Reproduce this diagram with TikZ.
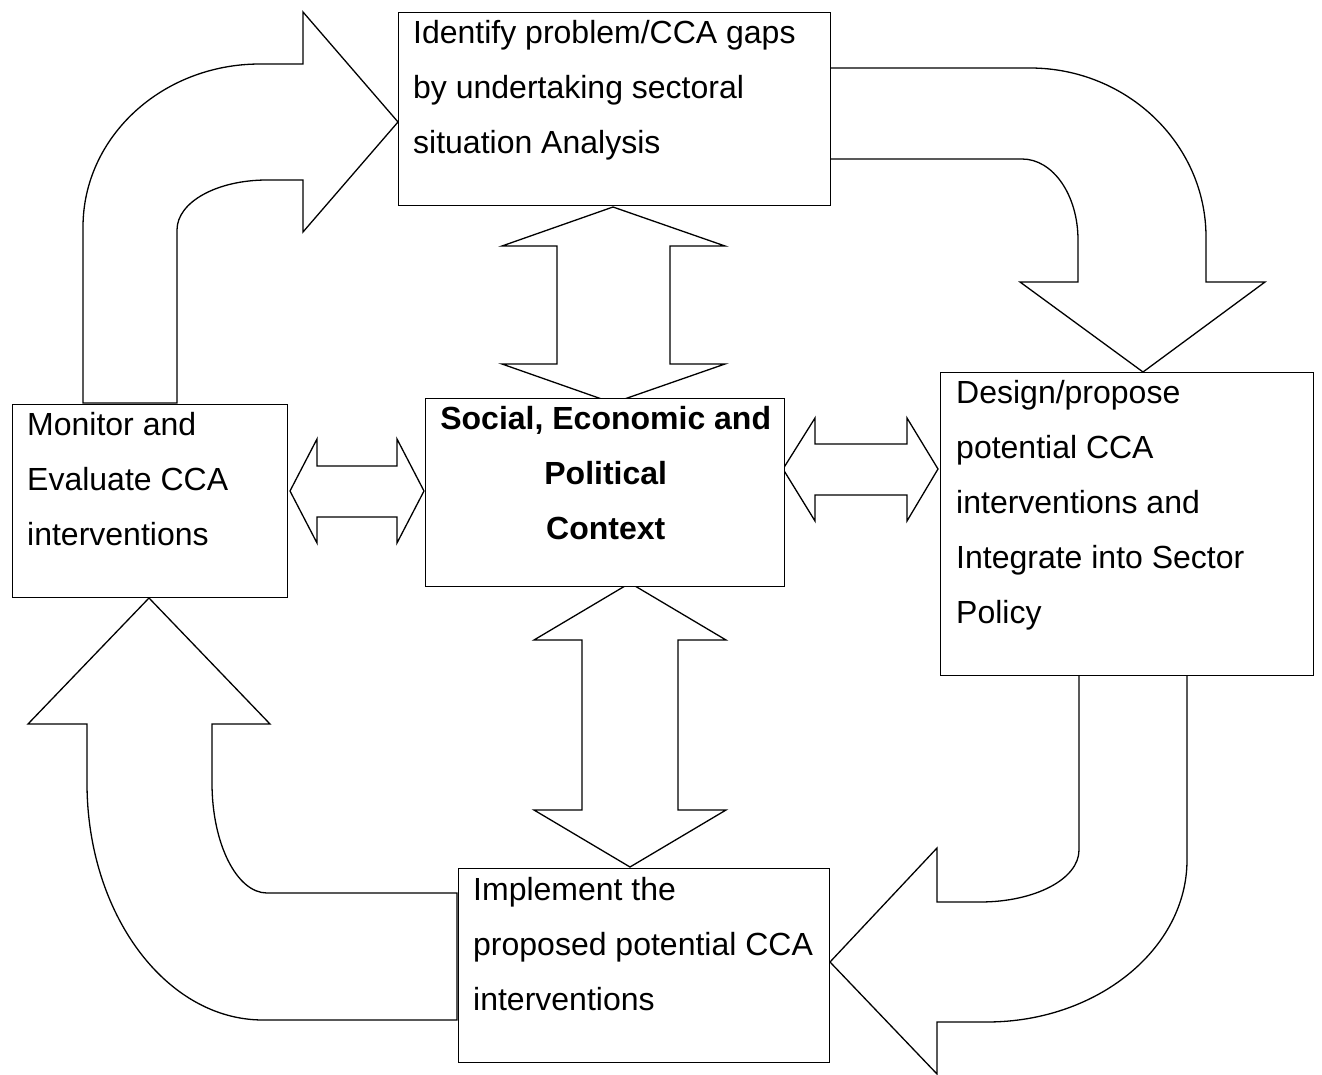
\documentclass[tikz,border=0pt]{standalone}
\usepackage{fontspec}
\setmainfont{Liberation Sans}
\tikzset{
  blk/.style={draw=black, line width=1.3pt, fill=white, line join=miter},
  boxst/.style={draw=black, line width=1.2pt, fill=white, inner sep=0pt, anchor=north west},
  txt/.style={anchor=base west, inner sep=0pt, font=\fontsize{32}{55}\selectfont},
}
\newcommand\ctr[1]{\hbox to 0pt{\hss #1\hss}}
\begin{document}
\begin{tikzpicture}[x=1pt,y=-1pt]
\useasboundingbox (0,0) rectangle (1322,1075);

% curved block arrows
\draw[blk] (83,403) -- (83,227) .. controls (83,137) and (162,64) .. (260,64)
  -- (303,64) -- (303,12) -- (398,122) -- (303,232) -- (303,180) -- (267,180)
  .. controls (217,180) and (177,202) .. (177,230) -- (177,403) -- cycle;
\draw[blk] (830,68) -- (1030,68) .. controls (1127,68) and (1206,144) .. (1206,237)
  -- (1206,282) -- (1265,282) -- (1143,372) -- (1020,282) -- (1078,282) -- (1078,240)
  .. controls (1078,195) and (1053,159) .. (1022,159) -- (830,159) -- cycle;
\draw[blk] (1079,670) -- (1079,850) .. controls (1079,879) and (1035,902) .. (980,902)
  -- (937,902) -- (937,848) -- (830,962) -- (937,1074) -- (937,1022) -- (987,1022)
  .. controls (1097,1022) and (1187,949) .. (1187,860) -- (1187,670) -- cycle;
\draw[blk] (457,893) -- (267,893) .. controls (237,893) and (212,844) .. (212,783)
  -- (212,724) -- (270,724) -- (149,598) -- (28,724) -- (87,724) -- (87,783)
  .. controls (87,914) and (166,1020) .. (263,1020) -- (457,1020) -- cycle;

% double block arrows
\draw[blk] (613,207) -- (725,246) -- (670,246) -- (670,364) -- (725,364) -- (613,403)
  -- (502,364) -- (557,364) -- (557,246) -- (502,246) -- cycle;
\draw[blk] (630,583) -- (726,640) -- (678,640) -- (678,810) -- (726,810) -- (630,867)
  -- (534,810) -- (582,810) -- (582,640) -- (534,640) -- cycle;
\draw[blk] (290,491) -- (317,439) -- (317,466) -- (397,466) -- (397,439) -- (424,491)
  -- (397,543) -- (397,517) -- (317,517) -- (317,543) -- cycle;
\draw[blk] (783,469) -- (815,418) -- (815,444) -- (907,444) -- (907,418) -- (938,469)
  -- (907,521) -- (907,495) -- (815,495) -- (815,521) -- cycle;

% boxes
\node[boxst, minimum width=432pt, minimum height=193pt] (top) at (398,12) {};
\node[boxst, minimum width=275pt, minimum height=193pt] (mon) at (12,404) {};
\node[boxst, minimum width=359pt, minimum height=188pt] (ctx) at (425,398) {};
\node[boxst, minimum width=373pt, minimum height=303pt] (des) at (940,372) {};
\node[boxst, minimum width=371pt, minimum height=194pt] (imp) at (458,868) {};

% texts
\node[txt] (toptxt) at (413,44) {\vtop{\hbox{Identify problem/CCA gaps}\hbox{by undertaking sectoral}\hbox{situation Analysis}}};
\node[txt] (montxt) at (27,435) {\vtop{\hbox{Monitor and}\hbox{Evaluate CCA}\hbox{interventions}}};
\node[txt] (destxt) at (956,403) {\vtop{\hbox{Design/propose}\hbox{potential CCA}\hbox{interventions and}\hbox{Integrate into Sector}\hbox{Policy}}};
\node[txt] (imptxt) at (473,900) {\vtop{\hbox{Implement the}\hbox{proposed potential CCA}\hbox{interventions}}};
\node[txt, font=\fontsize{32}{55}\selectfont\bfseries] (ctxtxt) at (605,429) {\vtop{\ctr{Social, Economic and}\ctr{Political}\ctr{Context}}};
\end{tikzpicture}
\end{document}
